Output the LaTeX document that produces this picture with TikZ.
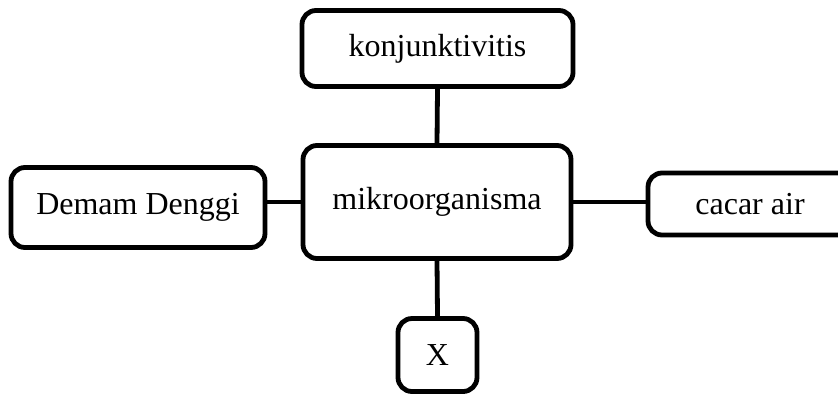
\documentclass[tikz,border=0pt]{standalone}
\usepackage{fontspec}
\setmainfont{Liberation Serif}
\usetikzlibrary{positioning}

\begin{document}
\begin{tikzpicture}[x=0.5pt,y=-0.5pt,
        kotak/.style={draw,line width=2.4pt,rounded corners=7pt,inner sep=0pt,
            font=\fontsize{16}{19}\selectfont},
        garis/.style={line width=2.4pt}]
        \useasboundingbox (0,0) rectangle (838,397); %batas gambar
        \node[kotak,minimum width=134pt,minimum height=56.5pt] (mikro) at (437,202) {mikroorganisma}; %pusat
        \node[kotak,minimum width=135.5pt,minimum height=38pt] (konj) at (437.5,48.5) {konjunktivitis}; %atas
        \node[kotak,minimum width=127pt,minimum height=40pt] (demam) at (138,207.5) {Demam Denggi}; %kiri
        \node[kotak,minimum width=102pt,minimum height=31pt] (cacar) at (750,204) {cacar air}; %kanan
        \node[kotak,minimum width=39.5pt,minimum height=36.5pt] (x) at (437.5,355) {X}; %bawah
        \draw[garis] (mikro.north) -- (konj.south); %garis atas
        \draw[garis] (mikro.west) -- (mikro.west -| demam.east); %garis kiri
        \draw[garis] (mikro.east) -- (mikro.east -| cacar.west); %garis kanan
        \draw[garis] (mikro.south) -- (x.north); %garis bawah
    \end{tikzpicture}
\end{document}
